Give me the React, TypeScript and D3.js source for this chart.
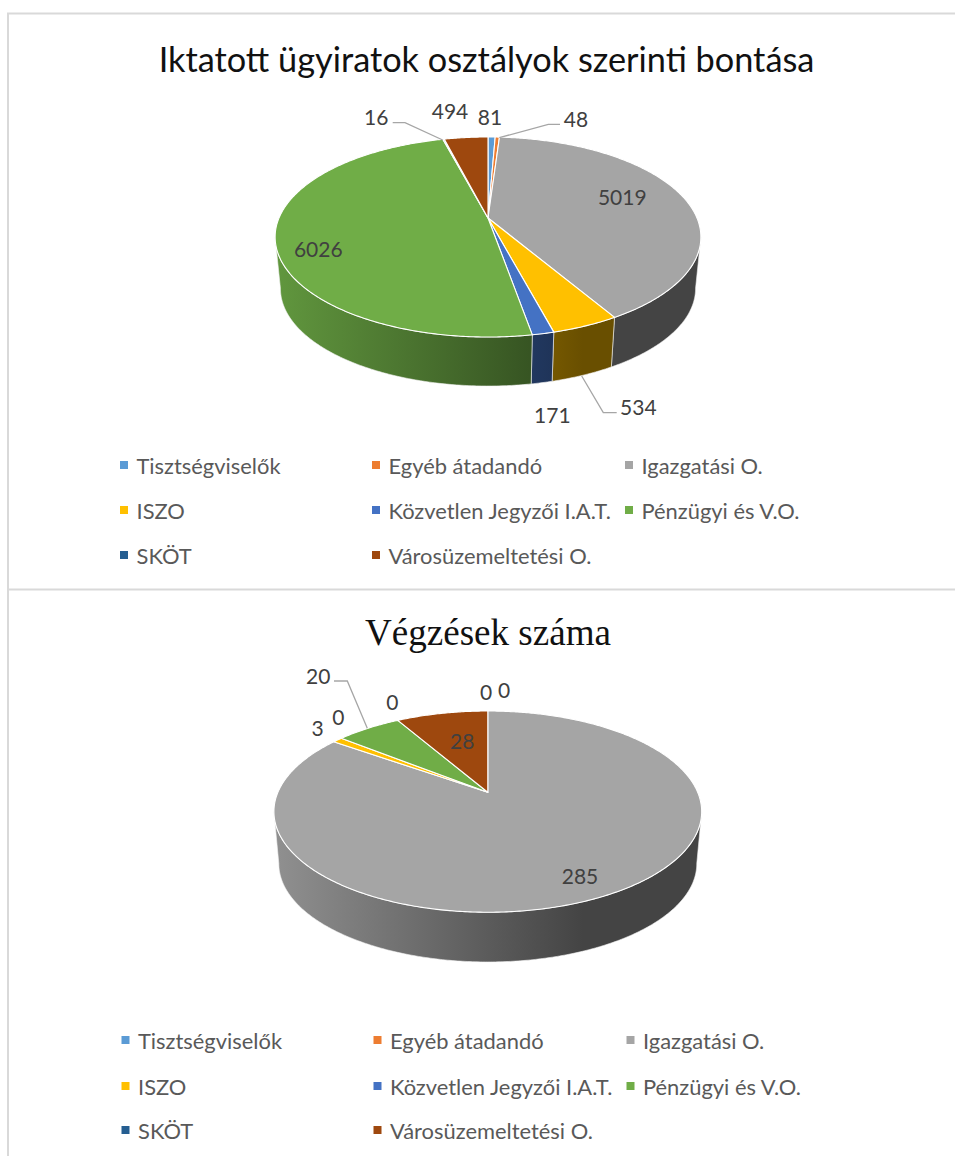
import React from "react";
import * as d3 from "d3";

const categories = ["Tisztségviselők", "Egyéb átadandó", "Igazgatási O.", "ISZO", "Közvetlen Jegyzői I.A.T.", "Pénzügyi és V.O.", "SKÖT", "Városüzemeltetési O."];
const colors = ["#5b9bd5", "#ed7d31", "#a5a5a5", "#ffc000", "#4472c4", "#70ad47", "#255e91", "#9e480e"];
const iktatott = [81, 48, 5019, 534, 171, 6026, 16, 494];
const vegzesek = [0, 0, 285, 3, 0, 20, 0, 28];

const FONT = "Lato, Carlito, Calibri, sans-serif";

type Geo = { cx: number; ay: number; b: number; a: number; k: number; dy: number; s: number };
const geo1: Geo = { cx: 488, ay: 218, b: 209, a: 96.4, k: 0.19, dy: 52, s: 0.975 };
const geo2: Geo = { cx: 487.8, ay: 792.3, b: 209.9, a: 96.9, k: 0.192, dy: 52.5, s: 0.977 };

const labels1: [number, number][] = [[490, 116.7], [576, 118], [622.3, 196.7], [638.3, 406.7], [552.3, 414.3], [318.3, 248.3], [376.3, 116.7], [450, 110.7]];
const labels2: [number, number][] = [[504, 689], [486, 691.7], [580, 875.7], [317.7, 727.7], [338.3, 716], [318.3, 675.7], [392.3, 701.7], [462.3, 740]];
const leaders1 = [
  [[392.7, 122.7], [405, 122.7], [442.7, 140]],
  [[499.3, 137.7], [548.3, 124.3], [560, 124.3]],
  [[581.7, 376], [603.3, 412.7], [616.7, 412.7]],
];
const leaders2 = [[[367.3, 728.3], [347.3, 681], [334, 681]]];

const legendCols = [120, 372, 625];
const legend1Rows = [465, 510, 555];
const legend2Rows = [1040, 1086, 1130];

const line = d3.line<number[]>().x((d) => d[0]).y((d) => d[1]);

function rim(g: Geo, t: number, bottom = false): number[] {
  const x = Math.sin(t);
  const y = -Math.cos(t);
  const d = 1 - g.k * y;
  const X = (g.b * x) / d;
  const Y = (g.a * y) / d;
  return bottom ? [g.cx + g.s * X, g.ay + g.dy + g.s * Y] : [g.cx + X, g.ay + Y];
}

function sample(a0: number, a1: number): number[] {
  const n = Math.max(2, Math.ceil((a1 - a0) / 0.01));
  return d3.range(n + 1).map((i) => a0 + ((a1 - a0) * i) / n);
}

function shade(c: string, f: number): string {
  const r = d3.rgb(c);
  return d3.rgb(r.r * f, r.g * f, r.b * f).formatHex();
}

function Pie({ values, g, id }: { values: number[]; g: Geo; id: string }) {
  const arcs = d3.pie<number>().sort(null).value((d) => d)(values);
  const lo = Math.acos(-g.k);
  const hi = 2 * Math.PI - lo;
  return (
    <g>
      <defs>
        {colors.map((c, i) => (
          <linearGradient key={i} id={`${id}-${i}`} gradientUnits="userSpaceOnUse" x1={g.cx - 213} x2={g.cx + 95} y1={0} y2={0}>
            <stop offset="0" stopColor={shade(c, 0.87)} />
            <stop offset="1" stopColor={shade(c, 0.41)} />
          </linearGradient>
        ))}
      </defs>
      {arcs.map((a, i) => {
        const a0 = Math.max(a.startAngle, lo);
        const a1 = Math.min(a.endAngle, hi);
        if (a.value === 0 || a1 <= a0) return null;
        const ts = sample(a0, a1);
        const pts = [...ts.map((t) => rim(g, t)), ...ts.slice().reverse().map((t) => rim(g, t, true))];
        return <path key={i} d={line(pts) + "Z"} fill={`url(#${id}-${i})`} stroke="#f2f2f2" strokeOpacity={0.75} strokeWidth={0.8} strokeLinejoin="round" />;
      })}
      {arcs.map((a, i) => {
        if (a.value === 0) return null;
        const pts = [[g.cx, g.ay], ...sample(a.startAngle, a.endAngle).map((t) => rim(g, t))];
        return <path key={i} d={line(pts) + "Z"} fill={colors[i]} stroke="#fff" strokeWidth={1.1} strokeLinejoin="round" />;
      })}
    </g>
  );
}

function Labels({ values, pos, leaders }: { values: number[]; pos: [number, number][]; leaders: number[][][] }) {
  return (
    <g>
      {leaders.map((l, i) => (
        <path key={i} d={line(l) ?? ""} fill="none" stroke="#a6a6a6" strokeWidth={1.3} />
      ))}
      {values.map((v, i) => (
        <text key={i} x={pos[i][0]} y={pos[i][1]} textAnchor="middle" dominantBaseline="central" fontFamily={FONT} fontSize={21} fill="#404040">
          {v}
        </text>
      ))}
    </g>
  );
}

function Legend({ rows, shift }: { rows: number[]; shift: number }) {
  return (
    <g>
      {categories.map((c, i) => {
        const x = legendCols[i % 3] + shift;
        const y = rows[Math.floor(i / 3)];
        return (
          <g key={c}>
            <rect x={x} y={y - 4} width={8} height={8} fill={colors[i]} />
            <text x={x + 16.5} y={y} dominantBaseline="central" fontFamily={FONT} fontSize={21.9} fill="#595959">
              {c}
            </text>
          </g>
        );
      })}
    </g>
  );
}

export default function App() {
  return (
    <svg width={955} height={1156} viewBox="0 0 955 1156" style={{ position: "absolute", left: 0, top: 0, display: "block", background: "#fff" }}>
      <path d="M8 1156V13.5H955M8 589.5H955" fill="none" stroke="#d9d9d9" strokeWidth={2} />
      <text x={486.5} y={58} textAnchor="middle" dominantBaseline="central" fontFamily={FONT} fontSize={34.3} fill="#111">
        Iktatott ügyiratok osztályok szerinti bontása
      </text>
      <Pie values={iktatott} g={geo1} id="a" />
      <Labels values={iktatott} pos={labels1} leaders={leaders1} />
      <Legend rows={legend1Rows} shift={0} />
      <text x={488} y={632} textAnchor="middle" dominantBaseline="central" fontFamily="'Liberation Serif', serif" fontSize={37.1} fill="#111">
        Végzések száma
      </text>
      <Pie values={vegzesek} g={geo2} id="b" />
      <Labels values={vegzesek} pos={labels2} leaders={leaders2} />
      <Legend rows={legend2Rows} shift={1.5} />
    </svg>
  );
}
